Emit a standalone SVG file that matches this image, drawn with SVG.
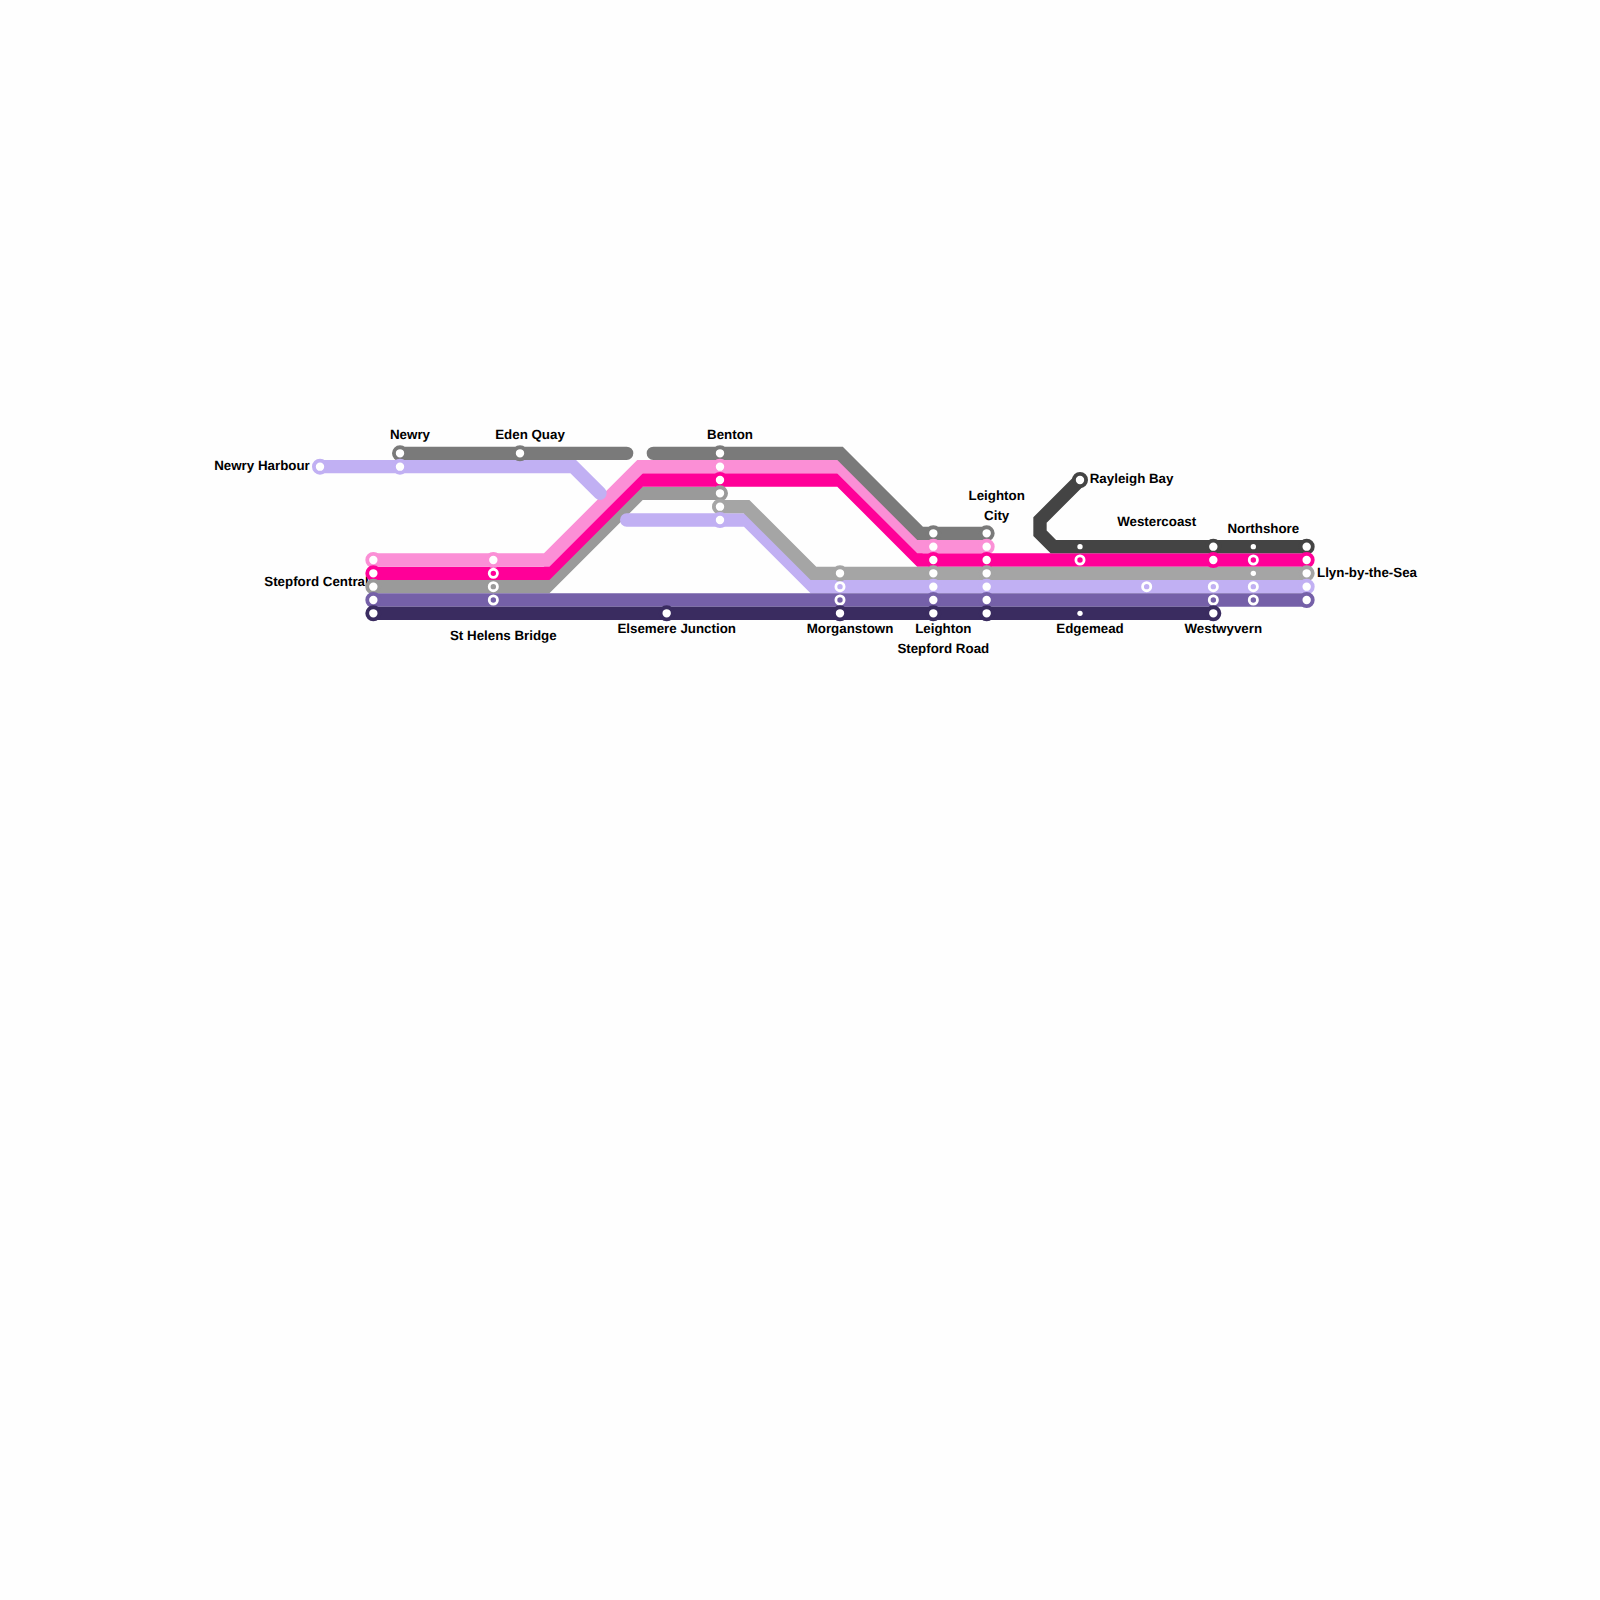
<svg xmlns="http://www.w3.org/2000/svg" width="1600" height="1600" viewBox="0 0 1600 1600">
<style>
text{font-family:"Liberation Sans",Arial,sans-serif;font-size:13.33px;font-weight:700;fill:#000;text-anchor:middle;text-rendering:geometricPrecision}
.l{fill:none;stroke-width:13.33;stroke-linecap:round;stroke-linejoin:miter}
.a{fill:#fff;stroke-width:3.8}
.b{stroke:#fff;stroke-width:2.8}
.c{fill:#fff;stroke:none}
.g7{stroke:#7a7a7a}.gl{stroke:#a5a5a5}.g9{stroke:#9a9a9a}.lv{stroke:#c1b0f3}.pk{stroke:#fb8fd6}.mg{stroke:#ff0098}.pu{stroke:#7560a8}.dk{stroke:#3a2c60}.ch{stroke:#444}
.b.mg{fill:#ff0098;stroke:#fff}.b.g9{fill:#9a9a9a;stroke:#fff}.b.pu{fill:#7560a8;stroke:#fff}.b.lv{fill:#c1b0f3;stroke:#fff}
</style>
<rect width="1600" height="1600" fill="#fefefe"/>
<g id="connectors">
<path class="l g9" d="M373.33 586.67H546.67L640 493.33H720"/>
<path class="l mg" d="M373.33 573.33H546.67L640 480H840L920 560H1306.67"/>
<path class="l pk" d="M373.33 560H546.67L640 466.67H840L920 546.67H986.67"/>
<path class="l g7" d="M400 453.33H626.67M653.33 453.33H840L920 533.33H986.67"/>
<path class="l lv" d="M320 466.67H573.33L600 493.33M626.67 520H746.67L813.33 586.67H1306.67"/>
<path class="l gl" d="M720 506.67H746.67L813.33 573.33H1306.67"/>
<path class="l pu" d="M373.33 600H1306.67"/>
<path class="l dk" d="M373.33 613.33H1213.33"/>
<path class="l ch" d="M1080 480L1040 520V533.33L1053.33 546.67H1306.67"/>
</g>
<g id="newry-harbour"><text x="262" y="469.6">Newry Harbour</text><circle class="a lv" cx="320" cy="466.67" r="6.1"/></g>
<g id="newry"><text x="410" y="439.2">Newry</text><circle class="a g7" cx="400" cy="453.33" r="6.1"/><circle class="a lv" cx="400" cy="466.67" r="6.1"/></g>
<g id="eden-quay"><text x="530" y="439.2">Eden Quay</text><circle class="a g7" cx="520" cy="453.33" r="6.1"/></g>
<g id="stepford-central"><text x="316.5" y="586.2">Stepford Central</text><circle class="a pk" cx="373.33" cy="560" r="6.1"/><circle class="a mg" cx="373.33" cy="573.33" r="6.1"/><circle class="a g9" cx="373.33" cy="586.67" r="6.1"/><circle class="a pu" cx="373.33" cy="600" r="6.1"/><circle class="a dk" cx="373.33" cy="613.33" r="6.1"/></g>
<g id="st-helens-bridge"><text x="503.3" y="639.6">St Helens Bridge</text><circle class="a pk" cx="493.33" cy="560" r="6.1"/><circle class="b mg" cx="493.33" cy="573.33" r="4.1"/><circle class="b g9" cx="493.33" cy="586.67" r="4.1"/><circle class="b pu" cx="493.33" cy="600" r="4.1"/></g>
<g id="elsemere-junction"><text x="676.7" y="633">Elsemere Junction</text><circle class="a dk" cx="666.67" cy="613.33" r="6.1"/></g>
<g id="benton"><text x="730" y="439.2">Benton</text><circle class="a g7" cx="720" cy="453.33" r="6.1"/><circle class="a pk" cx="720" cy="466.67" r="6.1"/><circle class="a mg" cx="720" cy="480" r="6.1"/><circle class="a g9" cx="720" cy="493.33" r="6.1"/><circle class="a gl" cx="720" cy="506.67" r="6.1"/><circle class="a lv" cx="720" cy="520" r="6.1"/></g>
<g id="morganstown"><text x="850" y="633">Morganstown</text><circle class="a gl" cx="840" cy="573.33" r="6.1"/><circle class="b lv" cx="840" cy="586.67" r="4.1"/><circle class="b pu" cx="840" cy="600" r="4.1"/><circle class="a dk" cx="840" cy="613.33" r="6.1"/></g>
<g id="leighton-stepford-road"><text x="943.3" y="633">Leighton</text><text x="943.3" y="653">Stepford Road</text><circle class="a g7" cx="933.33" cy="533.33" r="6.1"/><circle class="a pk" cx="933.33" cy="546.67" r="6.1"/><circle class="a mg" cx="933.33" cy="560" r="6.1"/><circle class="a gl" cx="933.33" cy="573.33" r="6.1"/><circle class="a lv" cx="933.33" cy="586.67" r="6.1"/><circle class="a pu" cx="933.33" cy="600" r="6.1"/><circle class="a dk" cx="933.33" cy="613.33" r="6.1"/></g>
<g id="leighton-city"><text x="996.7" y="500">Leighton</text><text x="996.7" y="520">City</text><circle class="a g7" cx="986.67" cy="533.33" r="6.1"/><circle class="a pk" cx="986.67" cy="546.67" r="6.1"/><circle class="a mg" cx="986.67" cy="560" r="6.1"/><circle class="a gl" cx="986.67" cy="573.33" r="6.1"/><circle class="a lv" cx="986.67" cy="586.67" r="6.1"/><circle class="a pu" cx="986.67" cy="600" r="6.1"/><circle class="a dk" cx="986.67" cy="613.33" r="6.1"/></g>
<g id="rayleigh-bay"><text x="1131.6" y="483">Rayleigh Bay</text><circle class="a ch" cx="1080" cy="480" r="6.1"/></g>
<g id="edgemead"><text x="1090" y="633">Edgemead</text><circle class="c" cx="1080" cy="546.67" r="2.67"/><circle class="b mg" cx="1080" cy="560" r="4.1"/><circle class="c" cx="1080" cy="613.33" r="2.67"/></g>
<g id="westercoast"><text x="1156.7" y="526.2">Westercoast</text><circle class="b lv" cx="1146.67" cy="586.67" r="4.1"/></g>
<g id="westwyvern"><text x="1223.3" y="633">Westwyvern</text><circle class="a ch" cx="1213.33" cy="546.67" r="6.1"/><circle class="a mg" cx="1213.33" cy="560" r="6.1"/><circle class="b lv" cx="1213.33" cy="586.67" r="4.1"/><circle class="b pu" cx="1213.33" cy="600" r="4.1"/><circle class="a dk" cx="1213.33" cy="613.33" r="6.1"/></g>
<g id="northshore"><text x="1263.3" y="533">Northshore</text><circle class="c" cx="1253.33" cy="546.67" r="2.67"/><circle class="b mg" cx="1253.33" cy="560" r="4.1"/><circle class="c" cx="1253.33" cy="573.33" r="2.67"/><circle class="b lv" cx="1253.33" cy="586.67" r="4.1"/><circle class="b pu" cx="1253.33" cy="600" r="4.1"/></g>
<g id="llyn-by-the-sea"><text x="1367" y="577">Llyn-by-the-Sea</text><circle class="a ch" cx="1306.67" cy="546.67" r="6.1"/><circle class="a mg" cx="1306.67" cy="560" r="6.1"/><circle class="a gl" cx="1306.67" cy="573.33" r="6.1"/><circle class="a lv" cx="1306.67" cy="586.67" r="6.1"/><circle class="a pu" cx="1306.67" cy="600" r="6.1"/></g>
</svg>
